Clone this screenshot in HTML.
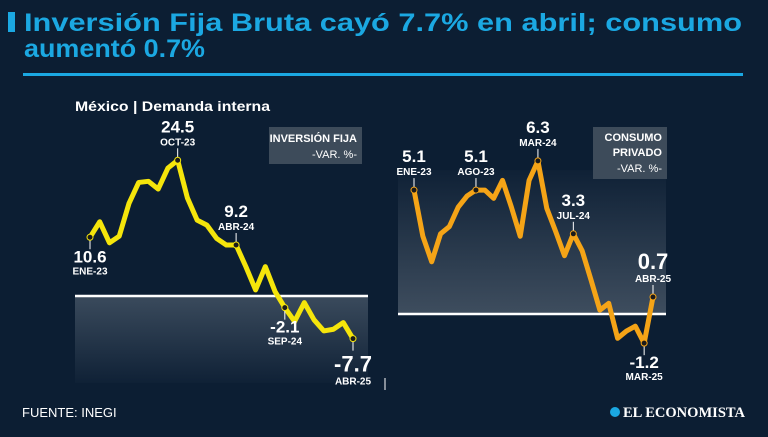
<!DOCTYPE html>
<html><head><meta charset="utf-8"><style>
html,body{margin:0;padding:0;background:#0c1e33;}
body{width:768px;height:432px;overflow:hidden;position:relative;font-family:"Liberation Sans",sans-serif;}
</style></head><body>
<svg width="768" height="432" viewBox="0 0 768 432" xmlns="http://www.w3.org/2000/svg">
<defs>
<linearGradient id="gL" x1="0" y1="0" x2="0" y2="1"><stop offset="0" stop-color="#3a4a5c"/><stop offset="1" stop-color="#0f2136"/></linearGradient>
<linearGradient id="gR" x1="0" y1="0" x2="0" y2="1"><stop offset="0" stop-color="#0f2136"/><stop offset="1" stop-color="#3e4d5e"/></linearGradient>
</defs>
<rect x="0" y="0" width="768" height="432" fill="#0c1e33"/>
<rect x="8" y="12" width="7" height="20" fill="#1ba8e2"/>
<text x="24" y="31" fill="#1ba8e2" font-size="25" font-weight="bold" textLength="718" lengthAdjust="spacingAndGlyphs">Inversión Fija Bruta cayó 7.7% en abril; consumo</text>
<text x="24" y="57" fill="#1ba8e2" font-size="25" font-weight="bold" textLength="181" lengthAdjust="spacingAndGlyphs">aumentó 0.7%</text>
<rect x="23" y="73" width="720" height="3" fill="#1ba8e2"/>
<text x="75" y="111" fill="#fff" font-size="14" font-weight="bold" textLength="195" lengthAdjust="spacingAndGlyphs">México | Demanda interna</text>
<rect x="75" y="297" width="293" height="86" fill="url(#gL)"/>
<rect x="398" y="170" width="268" height="144" fill="url(#gR)"/>
<line x1="385" y1="378" x2="385" y2="390" stroke="#fff" stroke-width="1"/>
<rect x="269" y="127" width="93" height="37" fill="#3d4b5a"/>
<text x="357" y="142" fill="#fff" font-size="11" font-weight="bold" text-anchor="end">INVERSIÓN FIJA</text>
<text x="357" y="158" fill="#fff" font-size="11" text-anchor="end">-VAR. %-</text>
<rect x="593" y="127" width="74" height="52" fill="#3d4b5a"/>
<text x="662" y="141" fill="#fff" font-size="11" font-weight="bold" text-anchor="end">CONSUMO</text>
<text x="662" y="156" fill="#fff" font-size="11" font-weight="bold" text-anchor="end">PRIVADO</text>
<text x="662" y="172" fill="#fff" font-size="11" text-anchor="end">-VAR. %-</text>
<g id="gLeft"></g><g id="gRight"></g>
<text x="22" y="417" fill="#fff" font-size="13">FUENTE: INEGI</text>
<circle cx="615" cy="412" r="5" fill="#1ba8e2"/>
<text x="623" y="417" fill="#fff" font-size="15" font-weight="bold" font-family="Liberation Serif,serif" textLength="122" lengthAdjust="spacingAndGlyphs">EL ECONOMISTA</text>
</svg>
<script>
const months = ["ENE-23","FEB-23","MAR-23","ABR-23","MAY-23","JUN-23","JUL-23","AGO-23","SEP-23","OCT-23","NOV-23","DIC-23","ENE-24","FEB-24","MAR-24","ABR-24","MAY-24","JUN-24","JUL-24","AGO-24","SEP-24","OCT-24","NOV-24","DIC-24","ENE-25","FEB-25","MAR-25","ABR-25"];
const inversion = [10.6,13.4,9.6,10.8,16.7,20.5,20.7,19.3,23.1,24.5,17.7,13.7,12.8,10.4,9.2,9.2,5.3,1.1,5.3,0.8,-2.1,-4.6,-1.2,-4.3,-6.3,-6.0,-4.8,-7.7];
const consumo = [5.1,3.2,2.15,3.3,3.6,4.4,4.86,5.1,5.1,4.76,5.5,4.4,3.2,5.5,6.3,4.35,3.4,2.4,3.3,2.6,1.4,0.16,0.44,-1.0,-0.7,-0.5,-1.2,0.7];
const invLabels = [[0,"below"],[9,"above"],[15,"above"],[20,"below"],[27,"below"]];
const conLabels = [[0,"above"],[7,"above"],[14,"above"],[18,"above"],[26,"below"],[27,"above"]];
const NS="http://www.w3.org/2000/svg";
function mk(t,a,p){const e=document.createElementNS(NS,t);for(const k in a)e.setAttribute(k,a[k]);p.appendChild(e);return e;}
function draw(g,vals,labels,x0,x1,y0,ppu,color,zl,zr,bigIdx){
  const xs=i=>x0+(x1-x0)*i/(vals.length-1), ys=v=>y0-v*ppu;
  const z=mk('line',{x1:zl,x2:zr,y1:y0,y2:y0,stroke:'#fff','stroke-width':2.5},g);
  
  
  const p=mk('polyline',{points:vals.map((v,i)=>xs(i)+','+ys(v)).join(' '),fill:'none',stroke:color,'stroke-width':5,'stroke-linejoin':'round','stroke-linecap':'round'},g);
  
  
  labels.forEach(([i,pos])=>{
    const x=xs(i),y=ys(vals[i]),v=vals[i];
    const up=pos==="above";
    const l=mk('line',{x1:x,x2:x,y1:y,y2:up?y-12:y+12,stroke:'#fff','stroke-width':1},g);
    
    
    const d=mk('circle',{cx:x,cy:y,r:3,fill:'#1a1a1a',stroke:color,'stroke-width':1},g);
    
    
    const big=i===bigIdx;
    const vy=up?y-28:y+(big?33:25), my=up?y-15:y+(big?46:37);
    const t=mk('text',{x:x,y:vy,fill:'#fff','font-size':big?22:17,'font-weight':'bold','text-anchor':'middle'},g);
    t.textContent=v.toFixed(1);
    
    
    const m=mk('text',{x:x,y:my,fill:'#fff','font-size':10,'font-weight':'bold','text-anchor':'middle'},g);
    m.textContent=months[i];
    
    
  });
}
draw(document.getElementById('gLeft'),inversion,invLabels,90,353,296,5.54,'#f5e50b',75,368,27);
draw(document.getElementById('gRight'),consumo,conLabels,414,653,314,24.3,'#f5a417',398,666,27);
</script>
</body></html>
